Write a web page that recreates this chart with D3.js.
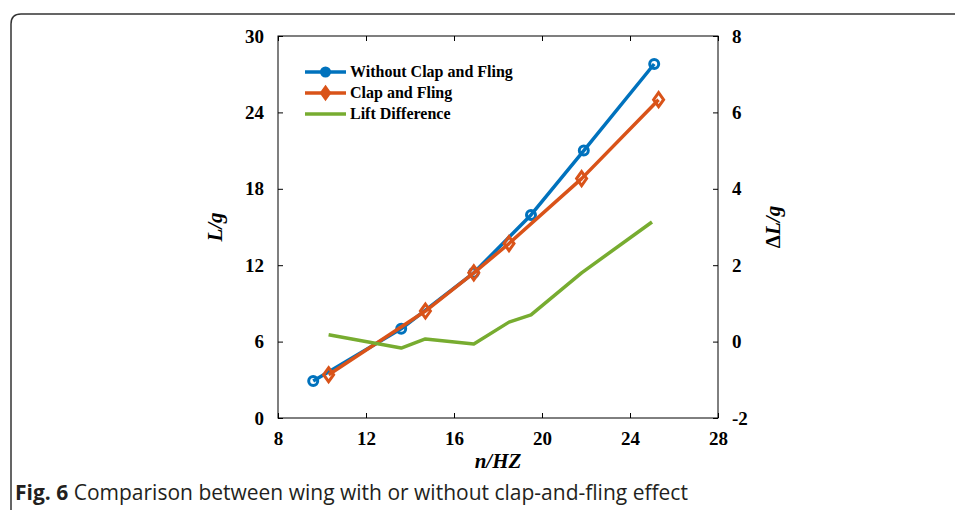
<!DOCTYPE html>
<html>
<head>
<meta charset="utf-8">
<script src="https://cdn.jsdelivr.net/npm/d3@7"></script>
<style>
  body { margin: 0; background: #fff; }
  svg { display: block; }
  .tick text { font-family: 'Liberation Serif', 'Times New Roman', serif; font-weight: bold; font-size: 19px; fill: #000; }
</style>
</head>
<body>
<svg id="chart" width="955" height="510"></svg>
<script>
// data
const freqWithout = [9.6, 13.6, 16.9, 19.5, 21.9, 25.1];
const liftWithout = [2.9, 7.0, 11.4, 15.95, 21.0, 27.8];
const freqClap = [10.3, 14.7, 16.9, 18.5, 21.8, 25.3];
const liftClap = [3.4, 8.4, 11.4, 13.7, 18.8, 25.0];
const freqDiff = [10.3, 13.6, 14.7, 16.9, 18.5, 19.5, 21.8, 25.0];
const liftDiff = [0.18, -0.17, 0.07, -0.06, 0.51, 0.70, 1.8, 3.13];
const xTicks = [8, 12, 16, 20, 24, 28];
const yTicks = [0, 6, 12, 18, 24, 30];
const y2Ticks = [-2, 0, 2, 4, 6, 8];
const seriesNames = ['Without Clap and Fling', 'Clap and Fling', 'Lift Difference'];

const blue = '#0072BD', orange = '#D95319', green = '#77AC30';

const svg = d3.select('#chart');
const m = { left: 278, right: 718, top: 36, bottom: 418 };
const fmt = (d) => String(d); // plain hyphen minus like the original

// outer frame of the figure panel
svg.append('path')
  .attr('d', 'M11,520 L11,24 Q11,14 21,14 L970,14')
  .attr('fill', 'none').attr('stroke', '#333').attr('stroke-width', 1.5);

const x = d3.scaleLinear().domain([8, 28]).range([m.left, m.right]);
const y = d3.scaleLinear().domain([0, 30]).range([m.bottom, m.top]);
const y2 = d3.scaleLinear().domain([-2, 8]).range([m.bottom, m.top]);

// box
svg.append('rect')
  .attr('x', m.left).attr('y', m.top)
  .attr('width', m.right - m.left).attr('height', m.bottom - m.top)
  .attr('fill', 'none').attr('stroke', '#000').attr('stroke-width', 1);

function styleAxis(g) {
  g.select('.domain').remove();
  g.selectAll('.tick line').attr('stroke', '#000');
}

svg.append('g').attr('transform', `translate(0,${m.bottom})`)
  .call(d3.axisBottom(x).tickValues(xTicks).tickFormat(fmt).tickSizeInner(-5).tickSizeOuter(0).tickPadding(14))
  .call(styleAxis);
svg.append('g').attr('transform', `translate(0,${m.top})`)
  .call(d3.axisTop(x).tickValues(xTicks).tickSizeInner(-5).tickSizeOuter(0).tickFormat(''))
  .call(styleAxis);
svg.append('g').attr('transform', `translate(${m.left},0)`)
  .call(d3.axisLeft(y).tickValues(yTicks).tickFormat(fmt).tickSizeInner(-5).tickSizeOuter(0).tickPadding(14))
  .call(styleAxis);
svg.append('g').attr('transform', `translate(${m.right},0)`)
  .call(d3.axisRight(y2).tickValues(y2Ticks).tickFormat(fmt).tickSizeInner(-5).tickSizeOuter(0).tickPadding(14))
  .call(styleAxis);

// axis titles
const serif = "'Liberation Serif', 'Times New Roman', serif";
svg.append('text').attr('x', 498).attr('y', 468).attr('text-anchor', 'middle')
  .attr('font-family', serif).attr('font-weight', 'bold').attr('font-size', 21).attr('font-style', 'italic')
  .text('n/HZ');

svg.append('text').attr('transform', 'translate(222,227) rotate(-90)').attr('text-anchor', 'middle')
  .attr('font-family', serif).attr('font-weight', 'bold').attr('font-size', 21).attr('font-style', 'italic')
  .text('L/g');

const rt = svg.append('text').attr('transform', 'translate(780,227) rotate(-90)').attr('text-anchor', 'middle')
  .attr('font-family', serif).attr('font-weight', 'bold').attr('font-size', 21);
rt.append('tspan').text('Δ');
rt.append('tspan').attr('font-style', 'italic').text('L/g');

// lines
const line = d3.line().x((d) => x(d[0])).y((d) => d[1]);
const withoutPts = freqWithout.map((f, i) => [f, y(liftWithout[i])]);
const clapPts = freqClap.map((f, i) => [f, y(liftClap[i])]);
const diffPts = freqDiff.map((f, i) => [f, y2(liftDiff[i])]);

svg.append('path').attr('d', line(withoutPts)).attr('fill', 'none')
  .attr('stroke', blue).attr('stroke-width', 3.5).attr('stroke-linejoin', 'round');
svg.selectAll('circle.without').data(withoutPts).enter().append('circle')
  .attr('cx', (d) => x(d[0])).attr('cy', (d) => d[1]).attr('r', 4.5)
  .attr('fill', 'none').attr('stroke', blue).attr('stroke-width', 3);

svg.append('path').attr('d', line(clapPts)).attr('fill', 'none')
  .attr('stroke', orange).attr('stroke-width', 3.5).attr('stroke-linejoin', 'round');
const diamond = 'M0,-7 L5,0 L0,7 L-5,0 Z';
svg.selectAll('path.clap').data(clapPts).enter().append('path')
  .attr('d', diamond)
  .attr('transform', (d) => `translate(${x(d[0])},${d[1]})`)
  .attr('fill', 'none').attr('stroke', orange).attr('stroke-width', 3);

svg.append('path').attr('d', line(diffPts)).attr('fill', 'none')
  .attr('stroke', green).attr('stroke-width', 3.5).attr('stroke-linejoin', 'round');

// legend
const colors = [blue, orange, green];
const leg = svg.selectAll('g.leg').data(seriesNames).enter().append('g')
  .attr('transform', (d, i) => `translate(305,${72 + i * 21})`);
leg.append('line').attr('x1', 0).attr('x2', 41).attr('y1', 0).attr('y2', 0)
  .attr('stroke', (d, i) => colors[i]).attr('stroke-width', 3.5);
leg.filter((d, i) => i === 0).append('circle').attr('cx', 20.5).attr('r', 4.5)
  .attr('fill', blue).attr('stroke', blue).attr('stroke-width', 2);
leg.filter((d, i) => i === 1).append('path').attr('d', diamond)
  .attr('transform', 'translate(20.5,0)').attr('fill', orange).attr('stroke', orange).attr('stroke-width', 1.5);
leg.append('text').attr('x', 45).attr('y', 5).text((d) => d)
  .attr('font-family', serif).attr('font-weight', 'bold').attr('font-size', 16);

// caption
const cap = svg.append('text').attr('x', 15).attr('y', 500)
  .attr('font-family', "'Open Sans', sans-serif").attr('font-size', 21).attr('fill', '#231f20');
cap.append('tspan').attr('font-weight', 'bold').text('Fig. 6');
cap.append('tspan').text(' Comparison between wing with or without clap-and-fling effect');
</script>
</body>
</html>
